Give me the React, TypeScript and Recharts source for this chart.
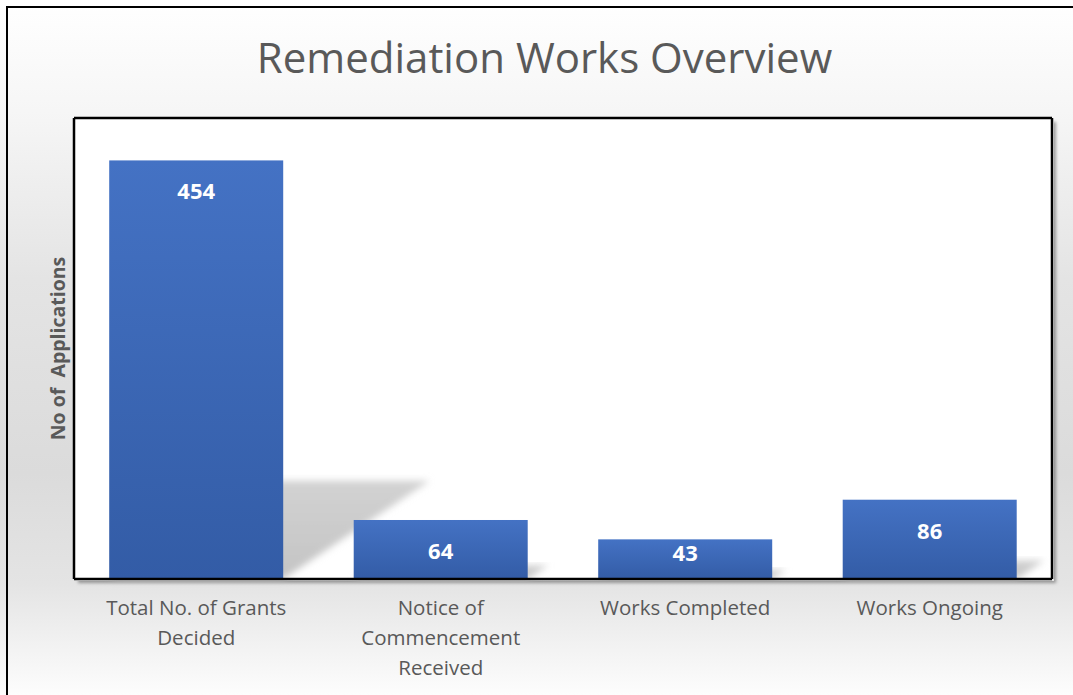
import React from "react";
import { BarChart, Bar, XAxis, YAxis, CartesianGrid, LabelList } from "recharts";

const categories = [
  "Total No. of Grants Decided",
  "Notice of Commencement Received",
  "Works Completed",
  "Works Ongoing",
];
const applications = [454, 64, 43, 86];
const yDomain = [0, 500];

const data = categories.map((name, i) => ({ name, value: applications[i] }));

const GREY = "#595959";
const FONT = "'Open Sans', 'Noto Sans', sans-serif";

// greedy word wrap, roughly what Excel does for these label widths
function wrap(label: string, maxChars = 19) {
  const lines: string[] = [];
  let cur = "";
  for (const w of label.split(" ")) {
    const next = cur ? cur + " " + w : w;
    if (next.length > maxChars && cur) {
      lines.push(cur);
      cur = w;
    } else {
      cur = next;
    }
  }
  if (cur) lines.push(cur);
  return lines;
}

function BarWithShadow(props: any) {
  const { x, y, width, height } = props;
  const base = y + height;
  const sh = height * 0.235;
  const skew = height * 0.35;
  const pts = [
    [x, base],
    [x + width, base],
    [x + width + skew, base - sh],
    [x + skew, base - sh],
  ]
    .map((p) => p.join(","))
    .join(" ");
  return (
    <g>
      <polygon points={pts} fill="url(#shadowGrad)" filter="url(#softBlur)" />
      <rect x={x} y={y} width={width} height={height} fill="url(#barGrad)" />
    </g>
  );
}

function InsideLabel(props: any) {
  const { x, y, width, height, value } = props;
  const dy = Math.min(30, height - 27);
  return (
    <text
      x={x + width / 2}
      y={y + dy}
      textAnchor="middle"
      dominantBaseline="central"
      fill="#fff"
      fontWeight={700}
      fontSize={22}
      fontFamily={FONT}
    >
      {value}
    </text>
  );
}

function CategoryTick(props: any) {
  const { x, y, payload } = props;
  const lines = wrap(String(payload.value));
  return (
    <text
      x={x}
      y={y + 28}
      textAnchor="middle"
      fill={GREY}
      fontSize={20.5}
      fontFamily={FONT}
    >
      {lines.map((ln, i) => (
        <tspan key={i} x={x} dy={i === 0 ? 0 : 30}>
          {ln}
        </tspan>
      ))}
    </text>
  );
}

function AxisTitle(props: any) {
  const { viewBox } = props;
  const cx = viewBox.x + viewBox.width - 17;
  const cy = viewBox.y + viewBox.height / 2;
  return (
    <text
      x={cx}
      y={cy}
      transform={`rotate(-90, ${cx}, ${cy})`}
      textAnchor="middle"
      dominantBaseline="central"
      fill={GREY}
      fontWeight={700}
      fontSize={19.5}
      fontFamily={FONT}
      style={{ whiteSpace: "pre" }}
    >
      {"No of  Applications"}
    </text>
  );
}

export default function App() {
  return (
    <div
      style={{
        position: "absolute",
        left: 0,
        top: 0,
        width: 1073,
        height: 695,
        overflow: "hidden",
        background:
          "linear-gradient(to bottom, #ffffff 0%, #f6f6f6 16%, #e4e4e4 40%, #dbdbdb 68%, #e4e4e4 84%, #fdfdfd 100%)",
      }}
    >
      <div
        style={{
          position: "absolute",
          left: 6,
          top: 6,
          width: 1100,
          height: 720,
          border: "2px solid #000",
          boxSizing: "border-box",
        }}
      />
      <div
        style={{
          position: "absolute",
          left: 0,
          top: 36,
          width: 1089,
          textAlign: "center",
          fontFamily: FONT,
          fontSize: 42,
          lineHeight: "42px",
          color: GREY,
        }}
      >
        Remediation Works Overview
      </div>
      <div
        style={{
          position: "absolute",
          left: 76,
          top: 120,
          width: 978,
          height: 461,
          boxShadow: "2px 2px 3px rgba(0,0,0,0.35)",
        }}
      />
      <div style={{ position: "absolute", left: 0, top: 0 }}>
        <BarChart
          width={1073}
          height={695}
          data={data}
          margin={{ top: 117, right: 20, bottom: 0, left: 8 }}
          barCategoryGap="14.4%"
        >
          <defs>
            <linearGradient id="barGrad" x1="0" y1="0" x2="0" y2="1">
              <stop offset="0%" stopColor="#4472C4" />
              <stop offset="100%" stopColor="#335CA6" />
            </linearGradient>
            <linearGradient id="shadowGrad" x1="0" y1="1" x2="0" y2="0">
              <stop offset="0%" stopColor="#c4c4c4" />
              <stop offset="100%" stopColor="#d2d2d2" />
            </linearGradient>
            <filter id="softBlur" x="-20%" y="-20%" width="140%" height="140%">
              <feGaussianBlur stdDeviation="3.5" />
            </filter>
          </defs>
          <CartesianGrid horizontal={false} vertical={false} fill="#ffffff" />
          <XAxis
            dataKey="name"
            height={116}
            interval={0}
            tickLine={false}
            axisLine={{ stroke: "#000", strokeWidth: 2.5 }}
            tick={<CategoryTick />}
          />
          <XAxis
            xAxisId="top"
            dataKey="name"
            orientation="top"
            height={1}
            tick={false}
            tickLine={false}
            axisLine={{ stroke: "#000", strokeWidth: 2.5 }}
          />
          <YAxis
            domain={yDomain}
            width={66}
            tick={false}
            tickLine={false}
            axisLine={{ stroke: "#000", strokeWidth: 2.5 }}
            label={<AxisTitle />}
          />
          <YAxis
            yAxisId="right"
            orientation="right"
            width={1}
            tick={false}
            tickLine={false}
            axisLine={{ stroke: "#000", strokeWidth: 2.5 }}
          />
          <Bar dataKey="value" shape={<BarWithShadow />} isAnimationActive={false}>
            <LabelList dataKey="value" content={<InsideLabel />} />
          </Bar>
        </BarChart>
      </div>
    </div>
  );
}
